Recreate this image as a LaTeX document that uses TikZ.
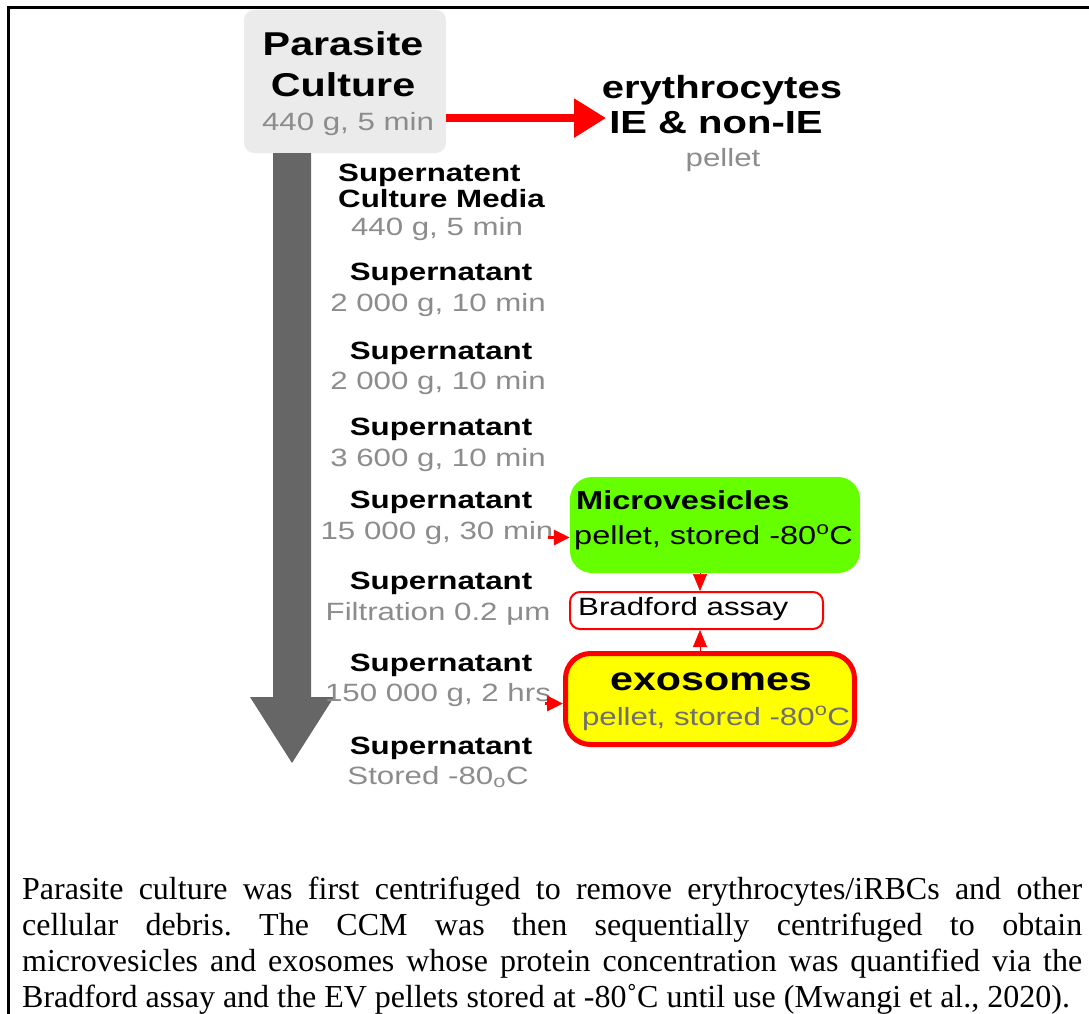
\documentclass[tikz,border=0pt]{standalone}
\usepackage{fontspec}
\setmainfont{Liberation Serif}
\newfontfamily\dsans[FakeStretch=1.25]{Liberation Sans}
\usetikzlibrary{arrows.meta,calc}
\definecolor{txtgray}{HTML}{8C8C8C}
\definecolor{boxgray}{HTML}{EBEBEB}
\definecolor{shaftgray}{HTML}{666666}
\definecolor{mvgreen}{HTML}{66FF00}
\definecolor{exoyellow}{HTML}{FFFF00}
\definecolor{exogray}{HTML}{6E6E6E}
\frenchspacing
\begin{document}
\begin{tikzpicture}[x=1pt,y=-1pt,
  lbltxt/.style={font={\dsans\bfseries\fontsize{25pt}{30pt}\selectfont}, inner sep=0pt, anchor=base},
  subtxt/.style={font={\dsans\fontsize{25pt}{30pt}\selectfont}, text=txtgray, inner sep=0pt, anchor=base},
  captxt/.style={font={\fontsize{32pt}{36pt}\selectfont}, inner sep=0pt, anchor=base west},
  smallarr/.style={red, line width=3pt, -{Triangle[length=16pt,width=15pt]}},
  vtri/.style={red, line width=0.5pt, -{Triangle[length=17pt,width=14pt]}},
  bigarr/.style={red, line width=8pt, -{Triangle[length=32pt,width=37pt]}}
]
\useasboundingbox (0,0) rectangle (1089,1014);
% frame
\draw[line width=3pt] (8,1014) -- (8,8) -- (1089,8);

% parasite culture box
\node[draw=none, fill=boxgray, rounded corners=10pt, minimum width=202pt, minimum height=143pt, inner sep=0pt] (pc) at (345,81.5) {};
\node[lbltxt, font={\dsans\bfseries\fontsize{33pt}{38pt}\selectfont}] (pc1) at (343,56) {Parasite};
\node[lbltxt, font={\dsans\bfseries\fontsize{33pt}{38pt}\selectfont}] (pc2) at (343,97) {Culture};
\node[subtxt] (pc3) at (348,131) {440 g, 5 min};

% erythrocytes
\node[lbltxt, font={\dsans\bfseries\fontsize{32pt}{38pt}\selectfont}] (ery1) at (722,99) {erythrocytes};
\node[lbltxt, font={\dsans\bfseries\fontsize{32pt}{38pt}\selectfont}] (ery2) at (716,133) {IE \& non-IE};
\node[subtxt] (ery3) at (723,166) {pellet};
\coordinate (arrEnd) at ([xshift=-3pt,yshift=4pt]ery2.west);
\draw[bigarr] (pc.east |- arrEnd) -- (arrEnd);

% shaft arrow
\fill[shaftgray] (273,153) -- (311,153) -- (311,697) -- (334,697) -- (292,763) -- (250,697) -- (273,697) -- cycle;

% column
\node[lbltxt, anchor=base west] (s0a) at (338,181) {Supernatent};
\node[lbltxt, anchor=base west] (s0b) at (338,207) {Culture Media};
\node[subtxt] (s0c) at (437,235) {440 g, 5 min};
\node[lbltxt] (s1a) at (441,280) {Supernatant};
\node[subtxt] (s1b) at (438,311) {2 000 g, 10 min};
\node[lbltxt] (s2a) at (441,359) {Supernatant};
\node[subtxt] (s2b) at (438,389) {2 000 g, 10 min};
\node[lbltxt] (s3a) at (441,435) {Supernatant};
\node[subtxt] (s3b) at (438,466) {3 600 g, 10 min};
\node[lbltxt] (s4a) at (441,508) {Supernatant};
\node[subtxt] (s4b) at (437,539) {15 000 g, 30 min};
\node[lbltxt] (s5a) at (441,589) {Supernatant};
\node[subtxt] (s5b) at (438,620) {Filtration 0.2 μm};
\node[lbltxt] (s6a) at (441,671) {Supernatant};
\node[subtxt] (s6b) at (438,701) {150 000 g, 2 hrs};
\node[lbltxt] (s7a) at (441,754) {Supernatant};
\node[subtxt] (s7b) at (438,784) {Stored -80\textsubscript{o}C};

% microvesicles
\node[fill=mvgreen, rounded corners=22pt, minimum width=290pt, minimum height=96pt, inner sep=0pt] (mv) at (715,525) {};
\node[lbltxt, anchor=base west, font={\dsans\bfseries\fontsize{26pt}{30pt}\selectfont}] (mv1) at (576,509) {Microvesicles};
\node[subtxt, anchor=base west, text=black, font={\dsans\fontsize{26pt}{30pt}\selectfont}] (mv2) at (574,544) {pellet, stored -80\textsuperscript{o}C};

% bradford
\node[draw=red, line width=2pt, fill=white, rounded corners=10pt, minimum width=253pt, minimum height=37pt, inner sep=0pt] (br) at (696.5,610.5) {};
\node[subtxt, anchor=base west, text=black] (br1) at (578,615) {Bradford assay};

% exosomes
\node[draw=red, line width=5pt, fill=exoyellow, rounded corners=25pt, minimum width=289pt, minimum height=91pt, inner sep=0pt] (ex) at (710,699) {};
\node[lbltxt, font={\dsans\bfseries\fontsize{33pt}{38pt}\selectfont}] (ex1) at (711,690) {exosomes};
\node[subtxt, text=exogray, font={\dsans\fontsize{25pt}{30pt}\selectfont}] (ex2) at (716,725) {pellet, stored -80\textsuperscript{o}C};

% small arrows
\coordinate (ax) at (700,0);
\coordinate (a1) at ([xshift=-6pt,yshift=-5pt]s4b.east);
\coordinate (a2) at ([xshift=-6pt,yshift=-9pt]s6b.east);
\draw[smallarr] (a1) -- (mv.west |- a1);
\draw[smallarr] (a2) -- (ex.west |- a2);
\draw[vtri] (mv.south -| ax) -- (br.north -| ax);
\draw[vtri] (ex.north -| ax) -- (br.south -| ax);

% caption
\node[captxt] (c1) at (22,899) {\hbox to 1060pt{Parasite culture was first centrifuged to remove erythrocytes/iRBCs and other}};
\node[captxt] (c2) at (22,935) {\hbox to 1060pt{cellular debris. The CCM was then sequentially centrifuged to obtain}};
\node[captxt] (c3) at (22,971) {\hbox to 1060pt{microvesicles and exosomes whose protein concentration was quantified via the}};
\node[captxt] (c4) at (22,1007) {Bradford assay and the EV pellets stored at -80˚C until use (Mwangi et al., 2020).};
\end{tikzpicture}
\end{document}
